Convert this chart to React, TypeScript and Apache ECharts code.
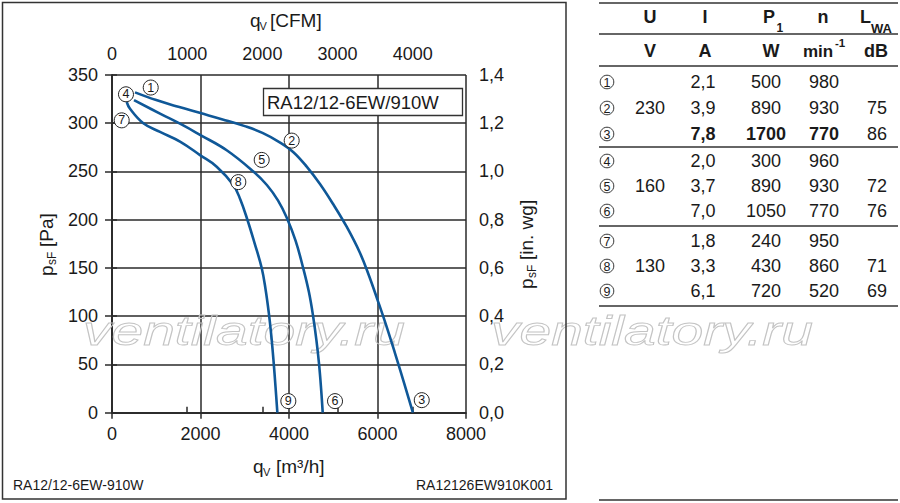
import React, { useEffect, useRef } from 'react';
import * as echarts from 'echarts';

// ---------- chart data (m³/h, Pa) ----------
const curve230 = [
  [520, 332], [1000, 324], [1500, 317], [2000, 310.5], [2500, 304], [3000, 297],
  [3400, 290], [3800, 280], [4100, 270], [4400, 255], [4700, 237], [5000, 216],
  [5300, 193], [5600, 166], [5800, 143], [6000, 117], [6200, 90], [6400, 61],
  [6600, 31], [6800, 0],
];
const curve160 = [
  [497, 324], [1085, 310], [1600, 298], [1989, 288], [2592, 272], [3194, 250],
  [3500, 236], [3750, 220], [3950, 202], [4150, 178], [4320, 150], [4450, 125],
  [4545, 100], [4620, 75], [4680, 50], [4725, 25], [4762, 0],
];
const curve130 = [
  [332, 322], [407, 315], [708, 300], [1085, 291], [1537, 281], [1989, 267],
  [2366, 255], [2742, 236], [2900, 221], [3060, 200], [3220, 176], [3383, 150],
  [3470, 128], [3545, 103], [3600, 80], [3650, 54], [3695, 27], [3737, 0],
];
const markerLabels = ['1', '2', '3', '4', '5', '6', '7', '8', '9'];
const markerPoints = [
  [875, 337], [4061, 282], [7000, 13], [316, 330], [3383, 262], [5040, 12],
  [219, 303], [2855, 239], [3985, 12],
];
const M3H_PER_CFM = 1.699;
const xMaxM3h = 8000;
const yMaxPa = 350;
const yMaxInWg = 1.4;

// ---------- table data ----------
const tableHeaders = ['U', 'I', 'P', 'n', 'L'];
const tableUnits = ['V', 'A', 'W', 'min', 'dB'];
const voltageGroups = ['230', '160', '130'];
const currents = ['2,1', '3,9', '7,8', '2,0', '3,7', '7,0', '1,8', '3,3', '6,1'];
const powers = ['500', '890', '1700', '300', '890', '1050', '240', '430', '720'];
const speeds = ['980', '930', '770', '960', '930', '770', '950', '860', '520'];
const noiseLevels = ['', '75', '86', '', '72', '76', '', '71', '69'];
const boldRow = 2;

const FONT = '"Liberation Sans", Arial, Helvetica, sans-serif';
const INK = '#1a1a1a';
const LINE = '#2a2a2a';
const BLUE = '#0f5898';

function T(x: number, y: number, text: string, o: any = {}) {
  const align = o.align || 'center';
  const va = o.va || 'middle';
  const el: any = {
    type: 'text', x, y, z: o.z ?? 10,
    style: {
      text, fontSize: o.size || 18, fontFamily: FONT,
      fontWeight: o.bold ? 'bold' : 'normal',
      fontStyle: o.italic ? 'italic' : 'normal',
      fill: o.fill || INK,
      align, verticalAlign: va, textAlign: align, textVerticalAlign: va,
    },
  };
  if (o.stroke) { el.style.stroke = o.stroke; el.style.lineWidth = o.lineWidth || 1; }
  if (o.scaleX) el.scaleX = o.scaleX;
  return el;
}
function L(x1: number, y1: number, x2: number, y2: number, w = 1.5) {
  return { type: 'line', z: 10, shape: { x1, y1, x2, y2 }, style: { stroke: '#333', lineWidth: w } };
}
function Circ(cx: number, cy: number, label: string) {
  return [
    { type: 'circle', z: 10, shape: { cx, cy, r: 6.8 }, style: { fill: '#fff', stroke: '#333', lineWidth: 1 } },
    T(cx, cy + 0.5, label, { size: 12.5 }),
  ];
}

function buildTable() {
  const els: any[] = [];
  const colX = [650, 703, 766, 824, 877];
  const headY = 17, unitY = 51;
  const rowY = [82, 108, 134, 161, 186, 211, 241, 266, 291];
  [3, 34, 66, 147, 226, 306, 500].forEach((y) => els.push(L(599, y, 898, y, 1.6)));
  // headers
  els.push(T(colX[0], headY, tableHeaders[0], { bold: true }));
  els.push(T(705, headY, tableHeaders[1], { bold: true }));
  els.push(T(769, headY, tableHeaders[2], { bold: true }));
  els.push(T(776.5, 27.5, '1', { bold: true, size: 12, align: 'left' }));
  els.push(T(823, headY, tableHeaders[3], { bold: true }));
  els.push(T(865.5, headY, tableHeaders[4], { bold: true }));
  els.push(T(871, 28.5, 'WA', { bold: true, size: 13, align: 'left' }));
  // units
  els.push(T(colX[0], unitY, tableUnits[0], { bold: true }));
  els.push(T(705, unitY, tableUnits[1], { bold: true }));
  els.push(T(771, unitY, tableUnits[2], { bold: true }));
  els.push(T(803, unitY, tableUnits[3], { bold: true, align: 'left', size: 17 }));
  els.push(T(835, 43, '-1', { bold: true, size: 11.5, align: 'left' }));
  els.push(T(876, unitY, tableUnits[4], { bold: true }));
  // rows
  for (let i = 0; i < 9; i++) {
    const y = rowY[i];
    els.push(...Circ(607, y, String(i + 1)));
    const b = i === boldRow;
    els.push(T(colX[1], y, currents[i], { bold: b }));
    els.push(T(colX[2], y, powers[i], { bold: b }));
    els.push(T(colX[3], y, speeds[i], { bold: b }));
    if (noiseLevels[i]) els.push(T(colX[4], y, noiseLevels[i]));
    if (i % 3 === 1) els.push(T(colX[0], y, voltageGroups[(i - 1) / 3]));
  }
  return els;
}

function buildChartDecor() {
  const els: any[] = [];
  // outer frame
  els.push({ type: 'rect', z: 10, shape: { x: 2.5, y: 2.5, width: 563.5, height: 496.5 },
    style: { fill: 'none', stroke: '#333', lineWidth: 1.5 } });
  // model box
  els.push({ type: 'rect', z: 10, shape: { x: 263.5, y: 88.5, width: 199, height: 27 },
    style: { fill: '#fff', stroke: '#333', lineWidth: 1.3 } });
  els.push(T(267, 102.5, 'RA12/12-6EW/910W', { align: 'left', size: 18.5, z: 11 }));
  // axis titles
  els.push(T(250, 20, 'q', { align: 'left', size: 19 }));
  els.push(T(259.5, 26, 'V', { align: 'left', size: 11 }));
  els.push(T(270, 20, '[CFM]', { align: 'left', size: 19 }));
  els.push(T(253, 466, 'q', { align: 'left', size: 19 }));
  els.push(T(263, 472, 'V', { align: 'left', size: 11 }));
  els.push(T(276, 466, '[m³/h]', { align: 'left', size: 19 }));
  els.push({ type: 'group', x: 46, y: 276, rotation: Math.PI / 2, z: 10, children: [
    T(0, 0, 'p', { align: 'left', size: 19 }),
    T(11, 5.5, 'sF', { align: 'left', size: 12 }),
    T(29, 0, '[Pa]', { align: 'left', size: 19 }),
  ] });
  els.push({ type: 'group', x: 526, y: 289, rotation: Math.PI / 2, z: 10, children: [
    T(0, 0, 'p', { align: 'left', size: 19 }),
    T(11, 5.5, 'sF', { align: 'left', size: 12 }),
    T(29, 0, '[in. wg]', { align: 'left', size: 19 }),
  ] });
  // footers
  els.push(T(13, 485, 'RA12/12-6EW-910W', { align: 'left', size: 14 }));
  els.push(T(553, 485, 'RA12126EW910K001', { align: 'right', size: 14 }));
  // watermark
  [83, 491].forEach((x) => {
    els.push(T(x, 331, 'ventilatory.ru', {
      align: 'left', size: 41, italic: true, fill: 'none', stroke: '#c4c4c4',
      lineWidth: 0.9, scaleX: 1.39, z: 1,
    }));
  });
  return els;
}

const axisLine = { show: true, lineStyle: { color: LINE, width: 1.5 } };
const labelStyle = { fontSize: 18, fontFamily: FONT, color: INK };
const plainNum = (v: number) => String(Math.round(v));

export default function App() {
  const ref = useRef<HTMLDivElement>(null);
  useEffect(() => {
    if (!ref.current) return;
    const chart = echarts.init(ref.current, null, { renderer: 'svg' });
    const lineSeries = (data: number[][]) => ({
      type: 'line', xAxisIndex: 0, yAxisIndex: 0, data, smooth: 0.4,
      showSymbol: false, symbol: 'none', silent: true, z: 3,
      lineStyle: { color: BLUE, width: 2.6 },
    });
    chart.setOption({
      animation: false,
      backgroundColor: '#fff',
      grid: { left: 112, top: 75, right: 434, bottom: 90.3, containLabel: false },
      xAxis: [
        {
          type: 'value', position: 'bottom', min: 0, max: xMaxM3h, interval: 2000,
          axisLine, axisTick: { show: true, length: 6, lineStyle: { color: LINE, width: 1.5 } },
          axisLabel: { ...labelStyle, margin: 12, formatter: plainNum },
          splitLine: { show: true, lineStyle: { color: LINE, width: 1.5 } },
        },
        {
          type: 'value', position: 'top', min: 0, max: xMaxM3h / M3H_PER_CFM, interval: 1000,
          axisLine, axisTick: { show: true, length: 6, lineStyle: { color: LINE, width: 1.5 } },
          axisLabel: { ...labelStyle, margin: 12, showMaxLabel: false, formatter: plainNum },
          splitLine: { show: false },
        },
      ],
      yAxis: [
        {
          type: 'value', position: 'left', min: 0, max: yMaxPa, interval: 50,
          axisLine, axisTick: { show: true, length: 7, lineStyle: { color: LINE, width: 1.5 } },
          axisLabel: { ...labelStyle, margin: 14, formatter: plainNum },
          splitLine: { show: true, lineStyle: { color: LINE, width: 1.5 } },
        },
        {
          type: 'value', position: 'right', min: 0, max: yMaxInWg, interval: 0.2,
          axisLine, axisTick: { show: true, length: 5, lineStyle: { color: LINE, width: 1.5 } },
          axisLabel: { ...labelStyle, margin: 13, formatter: (v: number) => v.toFixed(1).replace('.', ',') },
          splitLine: { show: false },
        },
      ],
      series: [
        lineSeries(curve230),
        lineSeries(curve160),
        lineSeries(curve130),
        {
          type: 'scatter', xAxisIndex: 0, yAxisIndex: 0, z: 5, silent: true,
          data: markerPoints.map((p, i) => ({ name: markerLabels[i], value: p })),
          symbol: 'circle', symbolSize: 15,
          itemStyle: { color: '#fff', borderColor: '#222', borderWidth: 1, opacity: 1 },
          label: { show: true, position: 'inside', formatter: '{b}', fontSize: 12.5, fontFamily: FONT, color: INK },
        },
      ],
      graphic: { elements: [...buildChartDecor(), ...buildTable()] },
    });
    return () => chart.dispose();
  }, []);
  return <div ref={ref} style={{ position: 'absolute', left: 0, top: 0, width: 900, height: 503 }} />;
}
